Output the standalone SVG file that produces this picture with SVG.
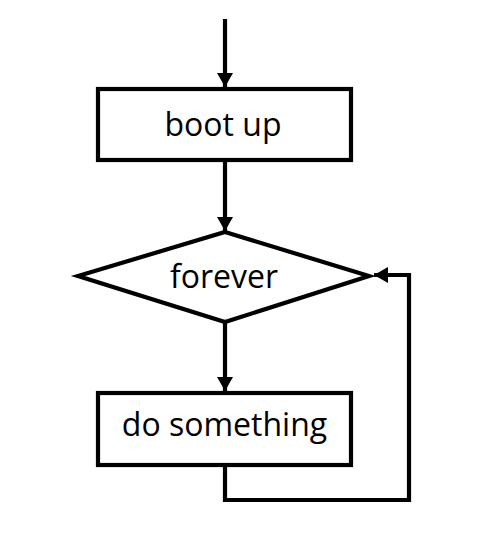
<svg xmlns="http://www.w3.org/2000/svg" width="492" height="538" viewBox="0 0 492 538">
<style>
.shape{fill:#ffffff;stroke:#000000;stroke-width:4.2}
.lbl{font-family:"Open Sans","Noto Sans","DejaVu Sans",sans-serif;font-size:32px;fill:#000000;text-anchor:middle}
.conn{fill:none;stroke:#000000;stroke-width:4.2;marker-end:url(#ah)}
</style>
<defs>
<marker id="ah" markerUnits="userSpaceOnUse" markerWidth="14" markerHeight="16" viewBox="0 0 14 16" refX="14" refY="8" orient="auto">
<path d="M0,0 L14,8 L0,16 Z" fill="#000000"/>
</marker>
</defs>
<rect width="492" height="538" fill="#ffffff"/>
<g id="connectors">
<path class="conn" d="M225,19 L225,87"/>
<path class="conn" d="M225,161 L225,231"/>
<path class="conn" d="M225,323 L225,391"/>
<path class="conn" d="M225,466 L225,500 L409,500 L409,275 L374,275"/>
</g>
<g id="boot">
<rect class="shape" x="98" y="89" width="253" height="71"/>
<text class="lbl" x="223" y="136">boot up</text>
</g>
<g id="forever">
<polygon class="shape" points="225,232 369,276 225,322 78,276"/>
<text class="lbl" x="224" y="288">forever</text>
</g>
<g id="do">
<rect class="shape" x="98" y="393" width="253" height="72"/>
<text class="lbl" x="224.5" y="436">do something</text>
</g>
</svg>
